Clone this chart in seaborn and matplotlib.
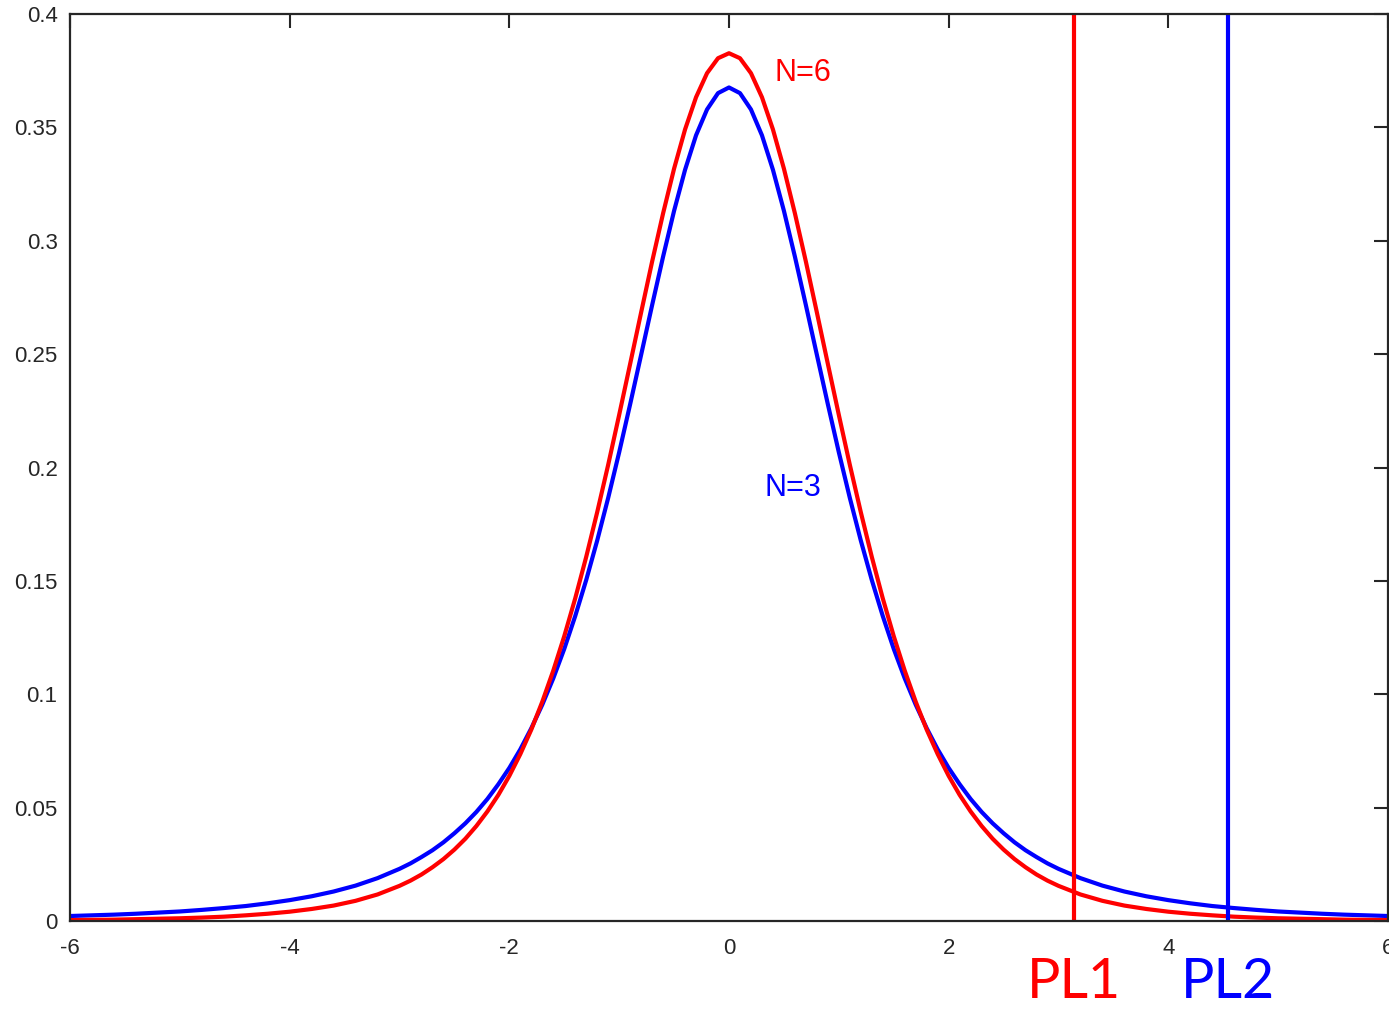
import numpy as np
import pandas as pd
import seaborn as sns
import matplotlib.pyplot as plt

# sample positions: step 0.1 near the centre, 0.2 in the tails (right half, mirrored below)
x_right = [round(0.1 * i, 1) for i in range(31)] + [round(3.0 + 0.2 * i, 1) for i in range(1, 16)]

# density values (blue N=3, red N=6), x = 0 ... 6
n3_right = [0.3676, 0.3651, 0.3579, 0.3465, 0.3313, 0.3132, 0.2930, 0.2716, 0.2497, 0.2279,
            0.2067, 0.1866, 0.1678, 0.1504, 0.1345, 0.1200, 0.1070, 0.0954, 0.0850, 0.0757,
            0.0675, 0.0603, 0.0538, 0.0481, 0.0431, 0.0387, 0.0347, 0.0312, 0.0282, 0.0254, 0.0230,
            0.0189, 0.0156, 0.0130, 0.0109, 0.0092, 0.0078, 0.0066, 0.0057, 0.0049, 0.0042,
            0.0037, 0.0032, 0.0028, 0.0025, 0.0022]
n6_right = [0.3827, 0.3805, 0.3739, 0.3633, 0.3491, 0.3318, 0.3121, 0.2908, 0.2684, 0.2457,
            0.2232, 0.2012, 0.1803, 0.1606, 0.1423, 0.1256, 0.1104, 0.0967, 0.0844, 0.0736,
            0.0640, 0.0556, 0.0483, 0.0419, 0.0363, 0.0315, 0.0273, 0.0237, 0.0205, 0.0178, 0.0155,
            0.0117, 0.0089, 0.0068, 0.0053, 0.0041, 0.0032, 0.0025, 0.0019, 0.0015, 0.0012,
            0.0010, 0.0008, 0.0006, 0.0005, 0.0004]

x_vals = [-v for v in x_right[:0:-1]] + x_right
n3_vals = n3_right[:0:-1] + n3_right
n6_vals = n6_right[:0:-1] + n6_right

pl_positions = [3.14, 4.54]
pl_labels = ['PL1', 'PL2']
pl_colors = ['#ff0000', '#0000ff']

df = pd.DataFrame({
    'x': x_vals + x_vals,
    'y': n3_vals + n6_vals,
    'N': ['N=3'] * len(x_vals) + ['N=6'] * len(x_vals),
})

sns.set_style('white')
plt.rcParams['font.family'] = ['Liberation Sans', 'DejaVu Sans']

fig = plt.figure(figsize=(13.89, 10.09), dpi=100)
ax = fig.add_axes([70 / 1389, 88 / 1009, 1318 / 1389, 907 / 1009])

sns.lineplot(data=df, x='x', y='y', hue='N', palette={'N=3': '#0000ff', 'N=6': '#ff0000'},
             hue_order=['N=3', 'N=6'], linewidth=3, legend=False, sort=False, ax=ax)

for pos, lab, col in zip(pl_positions, pl_labels, pl_colors):
    ax.axvline(pos, color=col, linewidth=3)
    ax.text(pos, -0.068, lab, color=col, fontsize=40, family=['Lato', 'DejaVu Sans'],
            ha='center', va='center', transform=ax.get_xaxis_transform(), clip_on=False)

ax.text(0.41, 0.374, 'N=6', color='#ff0000', fontsize=22, va='center')
ax.text(0.32, 0.191, 'N=3', color='#0000ff', fontsize=22, va='center')

ax.set_xlim(-6, 6)
ax.set_ylim(0, 0.4)
ax.set_xticks([-6, -4, -2, 0, 2, 4, 6])
ax.set_xticklabels(['-6', '-4', '-2', '0', '2', '4', '6'])
ax.set_yticks([0, 0.05, 0.1, 0.15, 0.2, 0.25, 0.3, 0.35, 0.4])
ax.set_yticklabels(['0', '0.05', '0.1', '0.15', '0.2', '0.25', '0.3', '0.35', '0.4'])
ax.set_xlabel('')
ax.set_ylabel('')
ax.tick_params(direction='in', top=True, right=True, length=10, width=1.5,
               labelsize=16, colors='#262626')
ax.tick_params(axis='x', pad=12)
ax.tick_params(axis='y', pad=9)
for sp in ax.spines.values():
    sp.set_color('#262626')
    sp.set_linewidth(1.6)
    sp.set_visible(True)

plt.savefig('out.png', dpi=100)
